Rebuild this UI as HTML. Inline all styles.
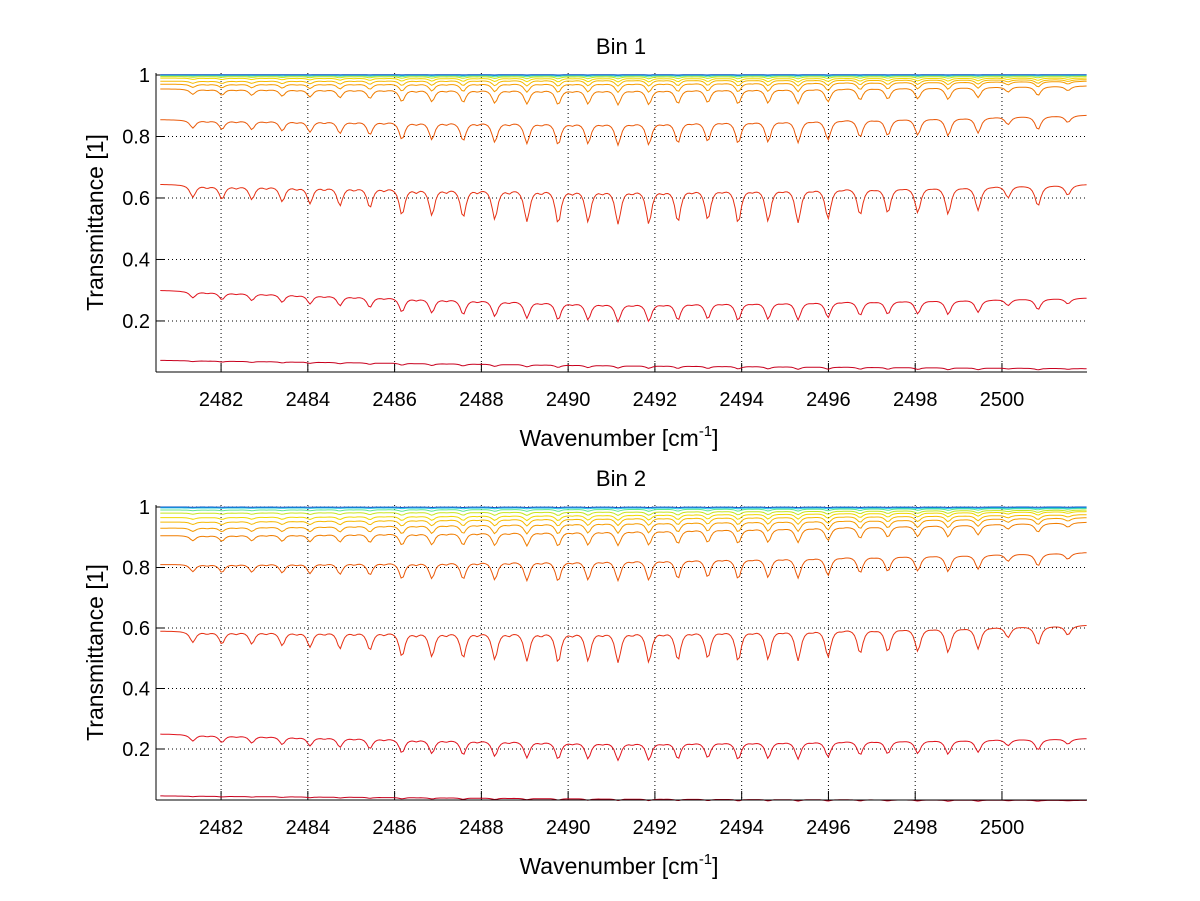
<!DOCTYPE html>
<html><head><meta charset="utf-8"><style>
body{margin:0;background:#fff;}
svg{display:block;font-family:"Liberation Sans",sans-serif;}
</style></head><body>
<svg id="chart" width="1200" height="901" viewBox="0 0 1200 901"></svg>
<script>
// Line centers (cm^-1) and relative strengths
const lineCenters=[2481.35,2482.02,2482.71,2483.41,2484.05,2484.74,2485.43,2486.17,2486.86,2487.58,2488.31,2489.05,2489.77,2490.46,2491.15,2491.86,2492.53,2493.22,2493.92,2494.61,2495.30,2495.99,2496.73,2497.37,2498.06,2498.76,2499.45,2500.14,2500.83,2501.52];
const lineStrengths=[0.35,0.4,0.4,0.45,0.5,0.55,0.6,0.8,0.8,0.85,0.9,0.95,1,0.95,1,1,0.95,0.9,1,0.95,1,0.9,0.8,0.75,0.75,0.8,0.7,0.35,0.6,0.3];
const xTicks=[2482,2484,2486,2488,2490,2492,2494,2496,2498,2500];
const yTicks=[0.2,0.4,0.6,0.8,1];
const yTickLabels=["0.2","0.4","0.6","0.8","1"];
const colors=["#c8001e","#e0141e","#e63214","#ea5a0a","#f07d00","#f59b00","#f5b900","#f0d700","#c8e61e","#64e68c","#1ec8e6","#0a50c8"];
// per-curve continuum [left, mid, right] and max dip depth
const bin1Cont=[[0.072,0.055,0.045],[0.30,0.26,0.275],[0.645,0.635,0.645],[0.855,0.85,0.87],[0.955,0.955,0.965],[0.97,0.975,0.98],[0.98,0.985,0.985],[0.99,0.99,0.99],[0.995,0.995,0.995],[0.998,0.998,0.998],[1.0,1.0,1.0],[1.001,1.001,1.001]];
const bin1Depth=[0.008,0.06,0.115,0.075,0.05,0.03,0.02,0.012,0.007,0.004,0.002,0.001];
const bin2Cont=[[0.045,0.035,0.03],[0.25,0.225,0.235],[0.59,0.595,0.61],[0.81,0.83,0.85],[0.905,0.925,0.95],[0.93,0.95,0.965],[0.95,0.965,0.975],[0.965,0.975,0.985],[0.98,0.985,0.99],[0.99,0.993,0.995],[0.997,0.997,0.997],[1.0,1.0,1.0]];
const bin2Depth=[0.005,0.06,0.105,0.07,0.05,0.035,0.025,0.018,0.012,0.007,0.003,0.002];

const NS="http://www.w3.org/2000/svg";
const svg=document.getElementById('chart');
function mk(tag,attrs,parent){const e=document.createElementNS(NS,tag);for(const k in attrs)e.setAttribute(k,attrs[k]);(parent||svg).appendChild(e);return e;}
const X0=2480.5,X1=2501.96;

function panel(title,top,bottom,ymin,ymax,cont,depth,idx){
  const L=156,R=1087;
  const g=mk('g',{});
  
  
  const xs=v=>L+(v-X0)/(X1-X0)*(R-L);
  const ys=v=>bottom-(v-ymin)/(ymax-ymin)*(bottom-top);
  xTicks.forEach(t=>{const l=mk('line',{x1:xs(t),x2:xs(t),y1:top,y2:bottom,stroke:'#000','stroke-width':1,'stroke-dasharray':'1,3'},g);
    
    mk('line',{x1:xs(t),x2:xs(t),y1:bottom,y2:bottom-9,stroke:'#000'},g);
    const tx=mk('text',{x:xs(t),y:bottom+34,'text-anchor':'middle','font-size':20},g);tx.textContent=t;
    });
  yTicks.forEach((t,i)=>{const l=mk('line',{x1:L,x2:R,y1:ys(t),y2:ys(t),stroke:'#000','stroke-width':1,'stroke-dasharray':'1,3'},g);
    
    mk('line',{x1:L,x2:L+9,y1:ys(t),y2:ys(t),stroke:'#000'},g);
    const tx=mk('text',{x:L-6,y:ys(t)+7,'text-anchor':'end','font-size':20},g);tx.textContent=yTickLabels[i];
    });
  cont.forEach((c,ci)=>{
    let d='';
    for(let w=2480.6;w<=X1+0.001;w+=0.05){
      const f=(w-X0)/(X1-X0);
      const base=f<0.5?c[0]+(c[1]-c[0])*f*2:c[1]+(c[2]-c[1])*(f-0.5)*2;
      let a=0;
      lineCenters.forEach((w0,k)=>{const z=(w-w0)/0.08;a+=lineStrengths[k]/(1+z*z);
        const z2=(w-w0-0.33)/0.07;a+=0.2*lineStrengths[k]*(1-f)/(1+z2*z2);});
      const v=base-depth[ci]*a;
      d+=(d?'L':'M')+xs(w).toFixed(1)+','+ys(v).toFixed(1);
    }
    const p=mk('path',{d:d,fill:'none',stroke:colors[ci],'stroke-width':1},g);
    
    
  });
  mk('line',{x1:L,x2:L,y1:top,y2:bottom,stroke:'#000'},g);
  mk('line',{x1:L,x2:R,y1:bottom,y2:bottom,stroke:'#000'},g);
  const tt=mk('text',{x:621,y:top-19,'text-anchor':'middle','font-size':22},g);tt.textContent=title;
  
  const xl=mk('text',{x:619,y:bottom+74,'text-anchor':'middle','font-size':23},g);
  xl.innerHTML='Wavenumber [cm<tspan font-size="15" dy="-10">-1</tspan><tspan dy="10">]</tspan>';
  
  const yl=mk('text',{x:0,y:0,'text-anchor':'middle','font-size':23,transform:'translate(103,'+((top+bottom)/2)+') rotate(-90)'},g);
  yl.textContent='Transmittance [1]';
  
}
panel('Bin 1',73,372,0.034,1.0065,bin1Cont,bin1Depth,1);
panel('Bin 2',505,800,0.0314,1.0066,bin2Cont,bin2Depth,2);
</script>
</body></html>
